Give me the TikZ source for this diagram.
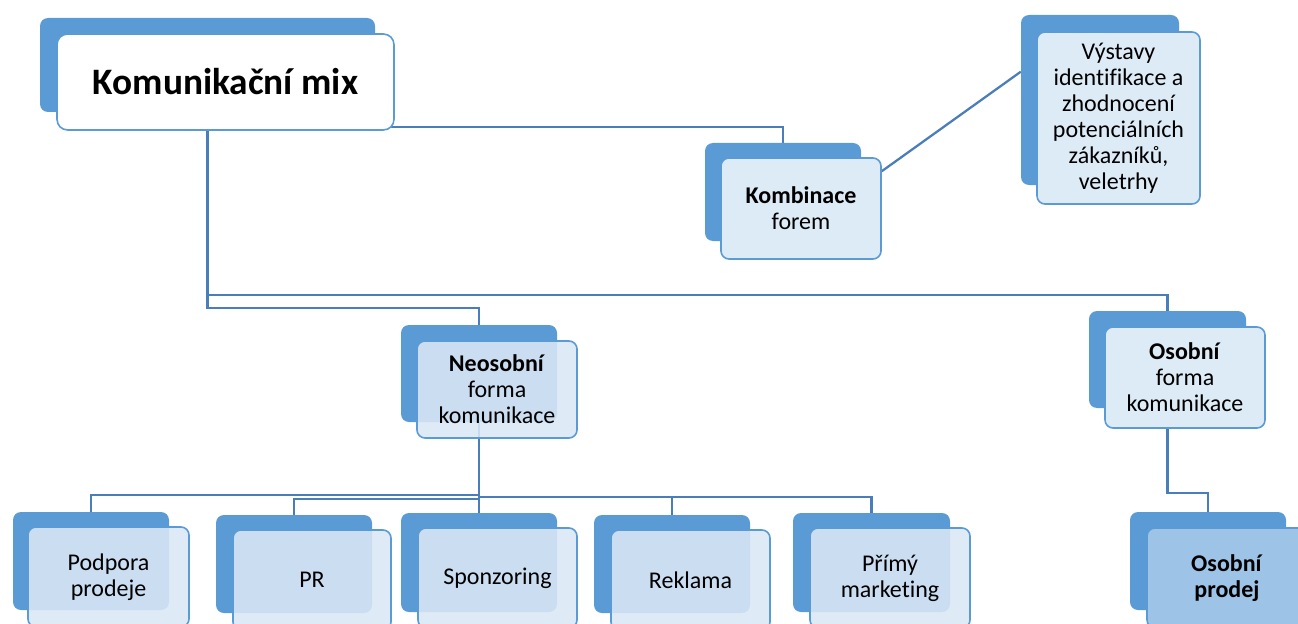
\documentclass[tikz,border=0pt]{standalone}
\usepackage{fontspec}
\setmainfont{Carlito}[Ligatures={NoCommon}]
\usetikzlibrary{calc}
\pgfdeclarelayer{bg}
\pgfsetlayers{bg,main}
\definecolor{backblue}{HTML}{5B9BD5}
\definecolor{lineblue}{HTML}{4A7EBB}
\definecolor{frontfill}{HTML}{DDEBF7}
\definecolor{glassfill}{HTML}{DAE7F5}
\definecolor{darkfill}{HTML}{9DC3E6}
\begin{document}
\begin{tikzpicture}[x=0.75pt,y=-0.75pt,
  backbox/.style 2 args={fill=backblue, rounded corners=6pt, inner sep=0pt,
    minimum width={#1*0.75pt}, minimum height={#2*0.75pt}},
  frontbox/.style 2 args={draw=backblue, line width=1.2pt, fill=frontfill,
    rounded corners=6pt, inner sep=0pt, align=center,
    minimum width={#1*0.75pt}, minimum height={#2*0.75pt},
    font=\fontsize{18}{19.5}\selectfont, text=black},
  glass/.style={fill=glassfill, fill opacity=0.88, text opacity=1},
  conn/.style={draw=lineblue, line width=1.7pt}]
\useasboundingbox (0,0) rectangle (1298,624);
\begin{scope}
\clip (0,0) rectangle (1298,624);
% top level
\node[backbox={335}{94}] (komB) at (207.5,65) {};
\node[frontbox={337}{96}, fill=white, rounded corners=8pt,
  font=\fontsize{28}{32}\selectfont\bfseries] (komF) at (225.5,82) {Komunikační mix};
% Kombinace
\node[backbox={156}{98}] (kombB) at (783,192) {};
\node[frontbox={160}{101}] (kombF) at (801,208.5) {\textbf{Kombinace}\\forem};
% Vystavy
\node[backbox={158}{170}] (vysB) at (1100,100) {};
\node[frontbox={163}{172}] (vysF) at (1118.5,118)
  {Výstavy\\identifikace a\\zhodnocení\\potenciálních\\zákazníků,\\veletrhy};
% Neosobni
\node[backbox={156}{97}] (neoB) at (479,373.5) {};
\node[frontbox={160}{97}, glass] (neoF) at (497,389.5) {\textbf{Neosobní}\\forma\\komunikace};
% Osobni
\node[backbox={157}{97}] (osB) at (1167.5,359.5) {};
\node[frontbox={160}{101}] (osF) at (1185,377.5) {\textbf{Osobní}\\forma\\komunikace};
% Osobni prodej
\node[backbox={156}{98}] (opB) at (1208,561) {};
\node[frontbox={160}{100}, fill=darkfill] (opF) at (1227,578) {\textbf{Osobní}\\\textbf{prodej}};
% bottom row
\node[backbox={156}{98}] (ppB) at (91,561) {};
\node[frontbox={161}{100}, glass] (ppF) at (108.5,577) {Podpora\\prodeje};
\node[backbox={156}{98}] (prB) at (294,564) {};
\node[frontbox={158}{100}, glass] (prF) at (312,580) {PR};
\node[backbox={156}{99}] (spB) at (479,562.5) {};
\node[frontbox={159}{100}, glass] (spF) at (497.5,578) {Sponzoring};
\node[backbox={156}{98}] (rkB) at (672,564) {};
\node[frontbox={159}{100}, glass] (rkF) at (690.5,580) {Reklama};
\node[backbox={157}{99}] (pmB) at (871.5,562.5) {};
\node[frontbox={160}{100}, glass] (pmF) at (890,578) {Přímý\\marketing};
% connectors
\begin{pgfonlayer}{bg}
\draw[conn] ($(komF.south east)+(-20,-4)$) -| (kombB.north);
\draw[conn] (komB.south) -- ++(0,183) -| (osB.north);
\draw[conn] (komB.south) -- ++(0,196) -| (neoB.north);
\draw[conn] ($(kombF.north east)+(0,14)$) -- ($(vysB.north west)+(0,57)$);
\draw[conn] (osB.south) -- ++(0,85) -| (opB.north);
\draw[conn] (neoB.south) -- ++(0,73) -| (ppB.north);
\draw[conn] (neoB.south) -- ++(0,77) -| (prB.north);
\draw[conn] (neoB.south) -- (spB.north);
\draw[conn] (neoB.south) -- ++(0,75) -| (rkB.north);
\draw[conn] (neoB.south) -- ++(0,75) -| (pmB.north);
\end{pgfonlayer}
\end{scope}
\end{tikzpicture}
\end{document}
